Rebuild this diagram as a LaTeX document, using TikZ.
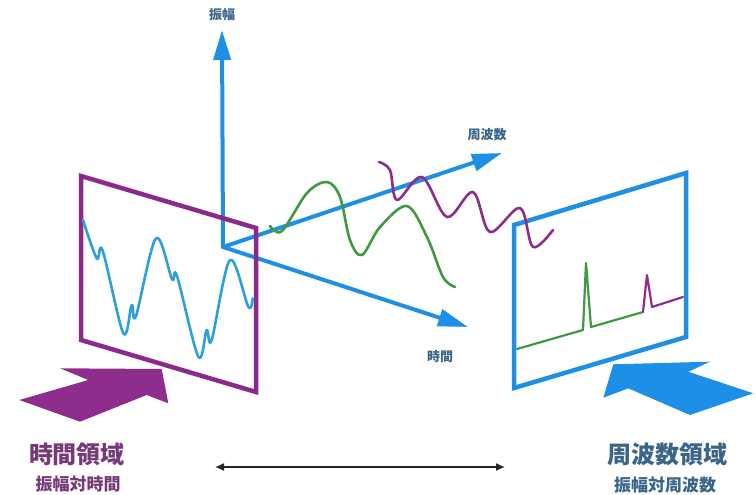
\documentclass[tikz,border=0pt]{standalone}
\usepackage{fontspec}
\newfontfamily\cjk{Noto Sans CJK JP}
\usetikzlibrary{arrows.meta}
\definecolor{axisblue}{HTML}{1E8FE6}
\definecolor{waveblue}{HTML}{2C9FDC}
\definecolor{panelpurple}{HTML}{8C2A8C}
\definecolor{wavepurple}{HTML}{8E2D8E}
\definecolor{wavegreen}{HTML}{3F9A3F}
\definecolor{txtblue}{HTML}{3A6488}
\definecolor{txtpurple}{HTML}{773A78}
\begin{document}
\begin{tikzpicture}[x=1pt,y=-1pt,line cap=round,line join=round,
  axis/.style={line width=4pt,axisblue,-{Triangle[length=30pt,width=17pt]}},
  axlabel/.style={font=\cjk\bfseries\fontsize{13}{13}\selectfont,text=txtblue,inner sep=0pt},
  bigtext/.style={font=\cjk\bfseries\fontsize{24}{24}\selectfont,inner sep=0pt},
  subtext/.style={font=\cjk\bfseries\fontsize{17}{17}\selectfont,inner sep=0pt},
  panel/.style={line width=4.5pt,line join=miter},
  wave/.style={line width=2.6pt}]
  \useasboundingbox (0,0) rectangle (756,495);
  % axes
  \coordinate (O) at (223,247);
  \coordinate (ampTip) at (222,30);
  \coordinate (freqTip) at (502,153);
  \coordinate (timeTip) at (468,327);
  \draw[axis] (O) -- (ampTip);
  \draw[axis] (O) -- (freqTip);
  \draw[axis] (O) -- (timeTip);
  \node[axlabel] (amp) at (222,15) {振幅};
  \node[axlabel] (freq) at (487,135) {周波数};
  \node[axlabel] (time) at (440,357) {時間};
  % time domain panel
  \draw[panel,panelpurple] (81,176) -- (256,228) -- (256,392) -- (81,340) -- cycle;
  \draw[wave,waveblue] plot[smooth,tension=0.55] coordinates {(83,220) (96.7,258.3) (102.7,250.7)
    (123.3,333.3) (131.7,305) (136,316) (156,238.3) (172,279) (177,276) (198.3,356.7)
    (206.7,330) (211.7,340) (230,260) (248.3,306.7) (252.7,298.3)};
  % frequency domain panel
  \draw[panel,axisblue] (514,225) -- (686,173) -- (686,337) -- (514,388) -- cycle;
  \draw[line width=2.2pt,wavegreen] (517,349) -- (583,330) -- (586,263) -- (591,327) -- (643,312);
  \draw[line width=2.2pt,wavepurple] (643,312) -- (647,275) -- (652,307) -- (683,297);
  % components
  \draw[wave,wavegreen] plot[smooth,tension=0.55] coordinates {(270,226) (282,231) (307,193)
    (327,182) (340,197) (350,240) (362,255) (380,227) (407,206) (427,237) (443,277) (455,287)};
  \draw[wave,wavepurple] plot[smooth,tension=0.55] coordinates {(379,162) (390,170) (397,200)
    (422,177) (447,217) (473,192) (490,232) (520,208) (533,247) (553,230)};
  % view arrows
  \fill[wavepurple] (19.3,400) -- (88.3,380) -- (60,368.3) -- (161.7,369) -- (168.3,403.3)
    -- (146.7,395) -- (80,421.7) -- cycle;
  \fill[axisblue] (613.3,364.3) -- (710,361.7) -- (688.3,371.7) -- (753.3,393.3) -- (690,415)
    -- (628.3,388.3) -- (603.3,397.7) -- cycle;
  % captions
  \node[bigtext,text=txtpurple] (tdom) at (77,454) {時間領域};
  \node[subtext,text=txtpurple] (tsub) at (78,484) {振幅対時間};
  \node[bigtext,text=txtblue] (fdom) at (667,454) {周波数領域};
  \node[subtext,text=txtblue] (fsub) at (665,485) {振幅対周波数};
  \coordinate (spanL) at (215,467);
  \coordinate (spanR) at (505,467);
  \draw[line width=1.3pt,black!85,{Latex[length=9pt,width=8pt]}-{Latex[length=9pt,width=8pt]}] (spanL) -- (spanR);
\end{tikzpicture}
\end{document}
